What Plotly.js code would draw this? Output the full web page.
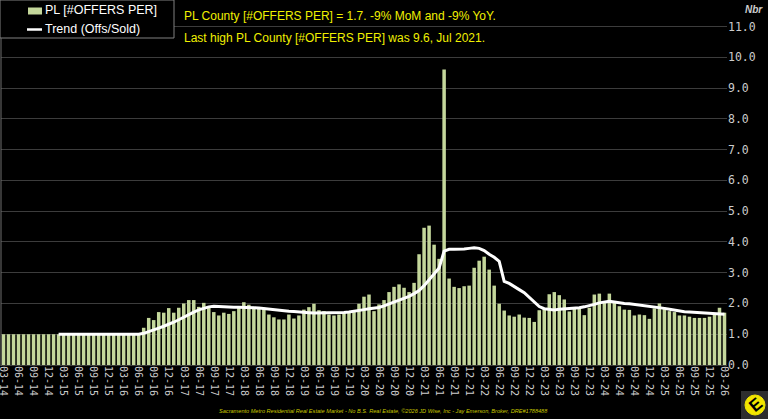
<!DOCTYPE html>
<html>
<head>
<meta charset="utf-8">
<script src="https://cdn.plot.ly/plotly-3.0.1.min.js"></script>
<style>
  html, body { margin: 0; padding: 0; background: #000; }
  #chart { width: 768px; height: 419px; }
</style>
</head>
<body>
<div id="chart"></div>
<script>
// ── Data: monthly, Mar 2014 .. Mar 2026 ──────────────────────────────────
const startYear  = 2014;
const startMonth = 3;

// PL [#OFFERS PER] bars
const offersPer = [
  1.0, 1.0, 1.0, 1.0, 1.0, 1.0, 1.0, 1.0, 1.0, 1.0,                    // 2014 Mar-Dec
  1.0, 1.0, 1.0, 1.0, 1.0, 1.0, 1.0, 1.0, 1.0, 1.0, 1.0, 1.0,          // 2015
  1.0, 1.0, 1.0, 1.0, 1.0, 1.0, 1.21, 1.53, 1.46, 1.72, 1.70, 1.85,    // 2016
  1.70, 1.86, 2.00, 2.11, 2.11, 1.89, 2.02, 1.86, 1.72, 1.61, 1.70, 1.66, // 2017
  1.75, 1.86, 2.04, 1.96, 1.89, 1.88, 1.86, 1.64, 1.55, 1.48, 1.48, 1.64, // 2018
  1.51, 1.61, 1.80, 1.88, 1.99, 1.78, 1.75, 1.64, 1.61, 1.64, 1.70, 1.70, // 2019
  1.72, 1.99, 2.22, 2.29, 1.75, 1.97, 2.11, 2.37, 2.54, 2.62, 2.51, 2.37, // 2020
  2.67, 3.60, 4.46, 4.53, 3.91, 3.45, 9.60, 2.81, 2.54, 2.50, 2.56, 2.58, // 2021
  3.16, 3.39, 3.52, 3.10, 2.58, 1.99, 1.77, 1.61, 1.57, 1.64, 1.54, 1.53, // 2022
  1.40, 1.78, 1.84, 2.30, 2.37, 2.27, 2.13, 1.74, 1.84, 1.85, 1.62, 1.86, // 2023
  2.29, 2.32, 2.04, 2.32, 2.05, 1.91, 1.80, 1.79, 1.61, 1.64, 1.62, 1.50, // 2024
  1.84, 2.00, 1.86, 1.75, 1.72, 1.61, 1.61, 1.57, 1.53, 1.53, 1.53, 1.57, // 2025
  1.66, 1.86, 1.70                                                      // 2026 Jan-Mar
];

// Trend (Offs/Sold) line
const trend = [
  null, null, null, null, null, null, null, null, null, null,          // 2014 Mar-Dec
  null, 1.0, 1.0, 1.0, 1.0, 1.0, 1.0, 1.0, 1.0, 1.0, 1.0, 1.0,         // 2015
  1.0, 1.0, 1.0, 1.0, 1.0, 1.0, 1.03, 1.08, 1.14, 1.20, 1.26, 1.32,    // 2016
  1.39, 1.47, 1.56, 1.64, 1.72, 1.79, 1.85, 1.89, 1.91, 1.90, 1.88, 1.88, // 2017
  1.88, 1.88, 1.88, 1.87, 1.86, 1.85, 1.83, 1.82, 1.80, 1.78, 1.76, 1.75, // 2018
  1.74, 1.72, 1.71, 1.70, 1.69, 1.69, 1.69, 1.70, 1.70, 1.71, 1.71, 1.72, // 2019
  1.74, 1.76, 1.80, 1.83, 1.85, 1.87, 1.92, 1.98, 2.05, 2.12, 2.17, 2.23, // 2020
  2.32, 2.42, 2.58, 2.76, 2.95, 3.15, 3.70, 3.76, 3.76, 3.76, 3.77, 3.79, // 2021
  3.81, 3.79, 3.72, 3.60, 3.50, 3.37, 2.72, 2.65, 2.56, 2.45, 2.35, 2.20, // 2022
  2.05, 1.90, 1.83, 1.80, 1.79, 1.81, 1.82, 1.83, 1.85, 1.86, 1.89, 1.92, // 2023
  1.97, 2.02, 2.05, 2.07, 2.05, 2.02, 2.00, 1.99, 1.97, 1.96, 1.94, 1.92, // 2024
  1.89, 1.87, 1.84, 1.81, 1.78, 1.76, 1.73, 1.72, 1.71, 1.70, 1.70, 1.69, // 2025
  1.68, 1.67, 1.65                                                      // 2026 Jan-Mar
];

const barName   = 'PL [#OFFERS PER]';
const lineName  = 'Trend (Offs/Sold)';
const headline1 = 'PL County [#OFFERS PER] = 1.7. -9% MoM and -9% YoY.';
const headline2 = 'Last high PL County [#OFFERS PER] was 9.6, Jul 2021.';
const footer    = 'Sacramento Metro Residential Real Estate Market - No B.S. Real Estate, \u00a92026 JD Wise, Inc - Jay Emerson, Broker, DRE#1788488';

const BAR_COLOR = '#c4d79b';
const TEXT_FONT = 'Liberation Sans, Arial, sans-serif';
const MONO_FONT = 'DejaVu Sans Mono, monospace';

// ── Category labels (MM-YY) and quarterly ticks ──────────────────────────
const months = offersPer.map((_, i) => {
  const m = (startMonth - 1 + i) % 12 + 1;
  const y = startYear + Math.floor((startMonth - 1 + i) / 12);
  return String(m).padStart(2, '0') + '-' + String(y % 100).padStart(2, '0');
});
const tickLabels = months.filter((_, i) => i % 3 === 0);

// ── Geometry helpers (pixel -> paper) ────────────────────────────────────
const W = 768, H = 419;
const M = {l: 1, r: 41, t: 25, b: 54};
const PW = W - M.l - M.r, PH = H - M.t - M.b;
const px = v => (v - M.l) / PW;
const py = v => (H - M.b - v) / PH;

const traces = [
  {
    type: 'bar',
    x: months, y: offersPer,
    name: barName,
    marker: {color: BAR_COLOR, line: {width: 0}},
    showlegend: false,
  },
  {
    type: 'scatter', mode: 'lines',
    x: months, y: trend,
    name: lineName,
    line: {color: '#ffffff', width: 3},
    connectgaps: false,
    showlegend: false,
  },
];

// legend is drawn by hand so the swatches sit where the original puts them
const legendShapes = [
  {type: 'rect', xref: 'paper', yref: 'paper', layer: 'above',
   x0: px(0), x1: px(174), y0: py(38), y1: py(0),
   fillcolor: '#000000', line: {color: '#808080', width: 1}},
  {type: 'rect', xref: 'paper', yref: 'paper', layer: 'above',
   x0: px(28), x1: px(42), y0: py(14.5), y1: py(7.5),
   fillcolor: BAR_COLOR, line: {width: 0}},
  {type: 'line', xref: 'paper', yref: 'paper', layer: 'above',
   x0: px(27), x1: px(42), y0: py(29.5), y1: py(29.5),
   line: {color: '#ffffff', width: 2.5}},
];
const legendLabels = [
  {text: barName, xref: 'paper', yref: 'paper', x: px(43), y: py(10.5),
   xanchor: 'left', yanchor: 'middle', showarrow: false,
   font: {family: TEXT_FONT, size: 12.5, color: '#ffffff'}},
  {text: lineName, xref: 'paper', yref: 'paper', x: px(43), y: py(29),
   xanchor: 'left', yanchor: 'middle', showarrow: false,
   font: {family: TEXT_FONT, size: 12.5, color: '#ffffff'}},
];

const layout = {
  width: W, height: H,
  margin: M,
  paper_bgcolor: '#000000',
  plot_bgcolor:  '#000000',
  bargap: 0.3,
  showlegend: false,
  font: {family: TEXT_FONT, color: '#cccccc'},
  xaxis: {
    type: 'category',
    range: [-0.5, months.length - 0.5],
    tickvals: tickLabels, ticktext: tickLabels,
    tickangle: 90,
    ticks: '', ticklen: 0,
    showgrid: false, zeroline: false, showline: false,
    tickfont: {family: MONO_FONT, size: 10, color: '#cccccc'},
    fixedrange: true,
  },
  yaxis: {
    side: 'right',
    range: [0, 11.05],
    dtick: 1, tick0: 0,
    tickformat: '.1f',
    showgrid: true, gridcolor: '#3c3c3c', gridwidth: 1,
    zeroline: true, zerolinecolor: '#3c3c3c', zerolinewidth: 1,
    ticks: '', ticklen: 0,
    tickfont: {family: MONO_FONT, size: 11.5, color: '#cccccc'},
    fixedrange: true,
  },
  shapes: [
    ...legendShapes,
    // left border
    {type: 'line', xref: 'paper', yref: 'paper', layer: 'above',
     x0: px(1), x1: px(1), y0: py(38), y1: py(366),
     line: {color: '#6e6e6e', width: 1}},
    // logo tile
    {type: 'rect', xref: 'paper', yref: 'paper',
     x0: px(741), x1: px(768), y0: py(419), y1: py(391),
     fillcolor: '#2e2e2e', line: {width: 0}},
    {type: 'circle', xref: 'paper', yref: 'paper',
     x0: px(745), x1: px(765), y0: py(415), y1: py(395),
     fillcolor: '#f2e600', line: {color: '#f2e600', width: 1}},
  ],
  annotations: [
    ...legendLabels,
    {text: headline1, xref: 'paper', yref: 'paper', x: px(182), y: py(16),
     xanchor: 'left', yanchor: 'middle', showarrow: false,
     font: {family: TEXT_FONT, size: 12, color: '#f0f000'}},
    {text: headline2, xref: 'paper', yref: 'paper', x: px(182), y: py(38),
     xanchor: 'left', yanchor: 'middle', showarrow: false,
     font: {family: TEXT_FONT, size: 12, color: '#f0f000'}},
    {text: '<b><i>Nbr</i></b>', xref: 'paper', yref: 'paper', x: px(754), y: py(10),
     xanchor: 'center', yanchor: 'middle', showarrow: false,
     font: {family: TEXT_FONT, size: 10, color: '#cccccc'}},
    {text: '<i>' + footer + '</i>', xref: 'paper', yref: 'paper', x: px(384), y: py(411),
     xanchor: 'center', yanchor: 'middle', showarrow: false,
     font: {family: TEXT_FONT, size: 5.6, color: '#c8c800'}},
    {text: '<b>E</b>', xref: 'paper', yref: 'paper', x: px(755), y: py(405),
     xanchor: 'center', yanchor: 'middle', showarrow: false, textangle: -40,
     font: {family: TEXT_FONT, size: 17, color: '#000000'}},
  ],
};

Plotly.newPlot('chart', traces, layout, {displayModeBar: false, staticPlot: true});
</script>
</body>
</html>
